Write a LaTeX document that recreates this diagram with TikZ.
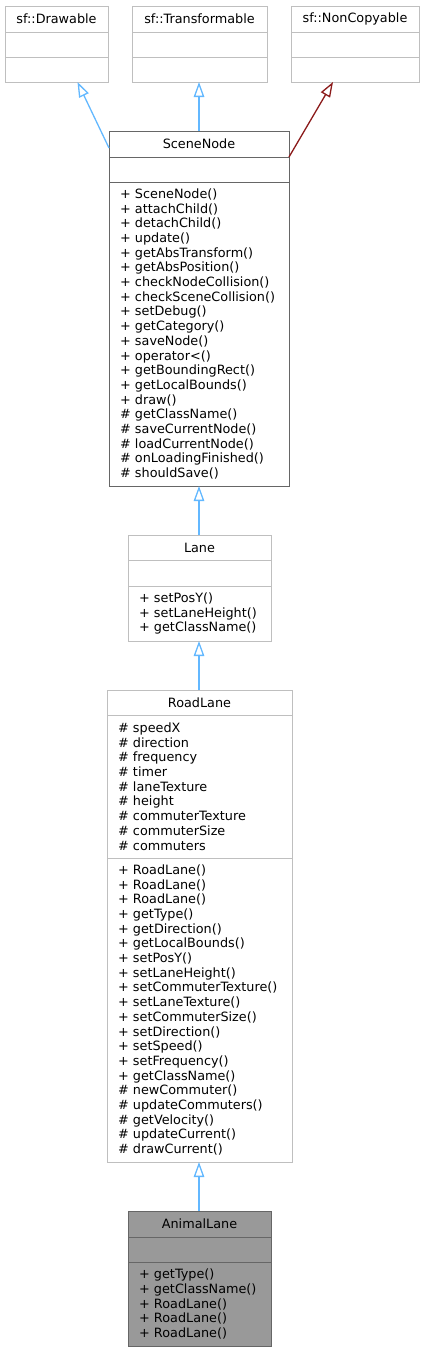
\documentclass[tikz,border=0pt]{standalone}
\usepackage{fontspec}
\setmainfont{DejaVu Sans}
\usetikzlibrary{arrows.meta}
\hyphenpenalty=10000
\exhyphenpenalty=10000

\definecolor{extgray}{HTML}{BFBFBF}
\definecolor{docgray}{HTML}{666666}
\definecolor{curfill}{HTML}{999999}
\definecolor{pubblue}{HTML}{63B8FF}
\definecolor{privred}{HTML}{8B1A1A}

\begin{document}
\begin{tikzpicture}[x=1pt, y=-1pt,
  part/.style    = {draw=extgray, line width=1pt, anchor=north west,
                    inner xsep=11pt, inner ysep=0pt, outer sep=0pt,
                    font=\fontsize{12.8}{14.7}\selectfont},
  title/.style   = {part, align=center},
  members/.style = {part, align=left},
  doc/.style     = {draw=docgray},          % a documented class: darker frame
  current/.style = {draw=docgray, fill=curfill},
  inherit/.style = {line width=1.3pt, draw=pubblue,
                    -{Triangle[open, length=15pt, width=10.5pt]}},
  privinh/.style = {inherit, draw=privred},
]
  \useasboundingbox (0,0) rectangle (425,1352);

  % the three SFML bases
  \node[title, minimum width=103pt, minimum height=26pt] (drw) at (5,6) {sf::Drawable};
  \node[members, text width=81pt, minimum height=25pt] (drwA) at (drw.south west) {};
  \node[members, text width=81pt, minimum height=25pt] (drwO) at (drwA.south west) {};

  \node[title, minimum width=135pt, minimum height=26pt] (trf) at (132,6) {sf::Transformable};
  \node[members, text width=113pt, minimum height=25pt] (trfA) at (trf.south west) {};
  \node[members, text width=113pt, minimum height=25pt] (trfO) at (trfA.south west) {};

  \node[title, minimum width=128pt, minimum height=26pt] (ncp) at (291,6) {sf::NonCopyable};
  \node[members, text width=106pt, minimum height=25pt] (ncpA) at (ncp.south west) {};
  \node[members, text width=106pt, minimum height=25pt] (ncpO) at (ncpA.south west) {};

  % SceneNode
  \node[title, doc, minimum width=180pt, minimum height=26pt] (sn) at (109,131) {SceneNode};
  \node[members, doc, text width=158pt, minimum height=25pt] (snA) at (sn.south west) {};
  \node[members, doc, text width=158pt, minimum height=304pt] (snO) at (snA.south west)
    {+ SceneNode()\\+ attachChild()\\+ detachChild()\\+ update()\\+ getAbsTransform()\\
     + getAbsPosition()\\+ checkNodeCollision()\\+ checkSceneCollision()\\+ setDebug()\\
     + getCategory()\\+ saveNode()\\+ operator<()\\+ getBoundingRect()\\+ getLocalBounds()\\
     + draw()\\\# getClassName()\\\# saveCurrentNode()\\\# loadCurrentNode()\\
     \# onLoadingFinished()\\\# shouldSave()};

  % Lane
  \node[title, minimum width=143pt, minimum height=25pt] (ln) at (128,535) {Lane};
  \node[members, text width=121pt, minimum height=26pt] (lnA) at (ln.south west) {};
  \node[members, text width=121pt, minimum height=55pt] (lnO) at (lnA.south west)
    {+ setPosY()\\+ setLaneHeight()\\+ getClassName()};

  % RoadLane
  \node[title, minimum width=185pt, minimum height=25pt] (rl) at (107,690) {RoadLane};
  \node[members, text width=163pt, minimum height=143pt] (rlA) at (rl.south west)
    {\# speedX\\\# direction\\\# frequency\\\# timer\\\# laneTexture\\\# height\\
     \# commuterTexture\\\# commuterSize\\\# commuters};
  \node[members, text width=163pt, minimum height=304pt] (rlO) at (rlA.south west)
    {+ RoadLane()\\+ RoadLane()\\+ RoadLane()\\+ getType()\\+ getDirection()\\
     + getLocalBounds()\\+ setPosY()\\+ setLaneHeight()\\+ setCommuterTexture()\\
     + setLaneTexture()\\+ setCommuterSize()\\+ setDirection()\\+ setSpeed()\\
     + setFrequency()\\+ getClassName()\\\# newCommuter()\\\# updateCommuters()\\
     \# getVelocity()\\\# updateCurrent()\\\# drawCurrent()};

  % AnimalLane, the class the diagram is for
  \node[title, current, minimum width=143pt, minimum height=26pt] (al) at (128,1211) {AnimalLane};
  \node[members, current, text width=121pt, minimum height=25pt] (alA) at (al.south west) {};
  \node[members, current, text width=121pt, minimum height=84pt] (alO) at (alA.south west)
    {+ getType()\\+ getClassName()\\+ RoadLane()\\+ RoadLane()\\+ RoadLane()};

  % inheritance, straight up from the derived class
  \draw[inherit] ([yshift=-4pt]sn.west) -- ([xshift=21pt]drwO.south);
  \draw[inherit] (sn.north) -- (sn.north |- trfO.south);
  \draw[privinh] (sn.south east) -- ([xshift=-22pt]ncpO.south);
  \draw[inherit] ([xshift=-0.5pt]ln.north) -- ([xshift=-0.5pt]ln.north |- snO.south);
  \draw[inherit] ([xshift=-0.5pt]rl.north) -- ([xshift=-0.5pt]rl.north |- lnO.south);
  \draw[inherit] ([xshift=-0.5pt]al.north) -- ([xshift=-0.5pt]al.north |- rlO.south);
\end{tikzpicture}
\end{document}
